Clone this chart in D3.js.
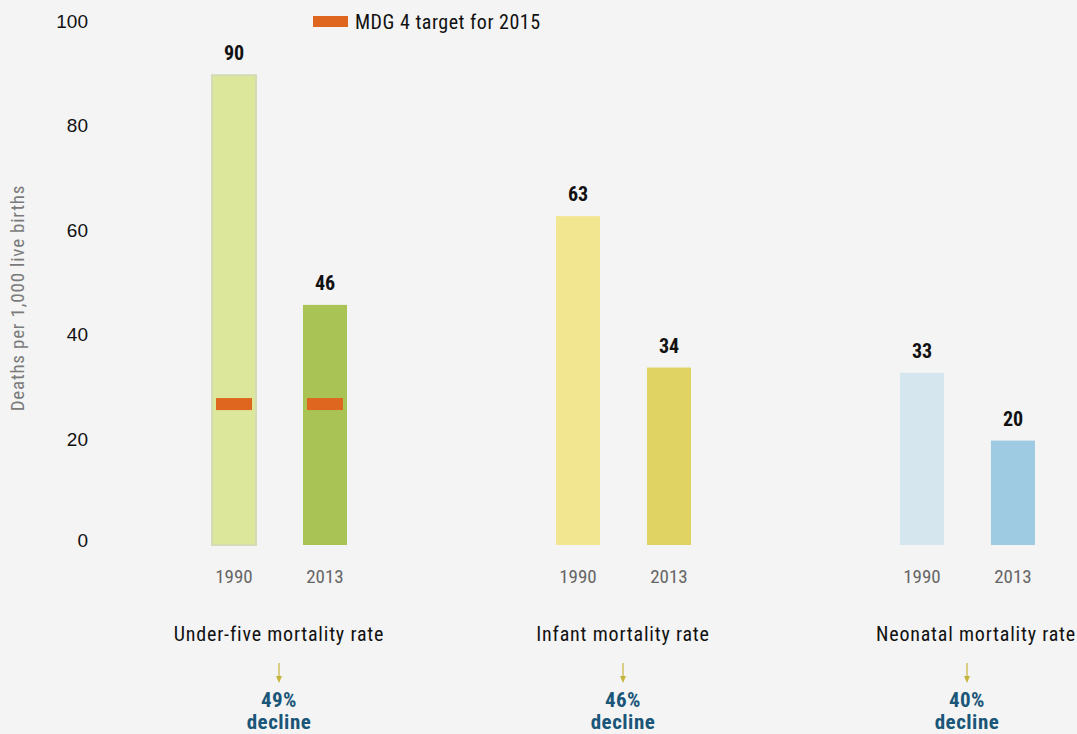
<!DOCTYPE html>
<html>
<head>
<meta charset="utf-8">
<script src="https://cdn.jsdelivr.net/npm/d3@7"></script>
<style>
  html, body { margin: 0; padding: 0; background: #f4f4f4; }
  svg { display: block; font-family: "Roboto Condensed", "Liberation Sans Narrow", "DejaVu Sans Condensed", sans-serif; }
</style>
</head>
<body>
<svg id="chart" width="1077" height="734"></svg>
<script>
// Mortality indicators, deaths per 1,000 live births
const categories = ["Under-five mortality rate", "Infant mortality rate", "Neonatal mortality rate"];
const years = ["1990", "2013"];
const values1990 = [90, 63, 33];
const values2013 = [46, 34, 20];
const declines = ["49%", "46%", "40%"];
const mdgTarget = [27, null, null];   // MDG 4 target for 2015 (under-five only)
const yTicks = [0, 20, 40, 60, 80, 100];
const legendLabel = "MDG 4 target for 2015";
const yTitle = "Deaths per 1,000 live births";

const colors = {
  "Under-five mortality rate": ["#dce79b", "#a9c355"],
  "Infant mortality rate": ["#f3e690", "#e1d363"],
  "Neonatal mortality rate": ["#d6e6ee", "#9ecbe2"]
};
const orange = "#df661e";

const svg = d3.select("#chart");

const y = d3.scaleLinear().domain([0, 100]).range([545, 23]);
const xGroup = d3.scaleBand().domain(categories).range([108, 1140]).paddingInner(0).paddingOuter(0);
const xYear = d3.scaleBand().domain(years).range([104, 239]).paddingInner(0.516).paddingOuter(0);

const rows = categories.map((c, i) => ({
  cat: c,
  bars: [
    { year: "1990", value: values1990[i] },
    { year: "2013", value: values2013[i] }
  ],
  decline: declines[i],
  target: mdgTarget[i]
}));

// y axis (labels only)
const yAxis = d3.axisLeft(y).tickValues(yTicks).tickSize(0).tickPadding(0);
const gy = svg.append("g").attr("transform", "translate(88,0)").call(yAxis);
gy.select(".domain").remove();
gy.selectAll("text")
  .attr("font-size", 19).attr("fill", "#111")
  .attr("dy", "0.32em")
  .style("font-family", "inherit");
gy.selectAll(".tick").attr("transform", d => `translate(0,${y(d) - (d === 0 ? 4 : 1)})`);

svg.append("text")
  .attr("transform", "translate(24,298) rotate(-90)")
  .attr("text-anchor", "middle")
  .attr("font-size", 19).attr("fill", "#7a7a7a")
  .attr("letter-spacing", 0.8)
  .text(yTitle);

const groups = svg.selectAll("g.grp").data(rows).join("g")
  .attr("class", "grp")
  .attr("transform", d => `translate(${xGroup(d.cat)},0)`);

groups.selectAll("rect.bar").data(d => d.bars.map((b, j) => ({ ...b, cat: d.cat, j }))).join("rect")
  .attr("class", "bar")
  .attr("x", d => xYear(d.year))
  .attr("y", d => y(d.value))
  .attr("width", xYear.bandwidth())
  .attr("height", d => y(0) - y(d.value))
  .attr("fill", d => colors[d.cat][d.j])
  .attr("stroke", d => (d.cat === categories[0] && d.j === 0) ? "#d3dcb5" : "none")
  .attr("stroke-width", 2);

// value labels
groups.selectAll("text.val").data(d => d.bars).join("text")
  .attr("class", "val")
  .attr("x", d => xYear(d.year) + xYear.bandwidth() / 2)
  .attr("y", d => y(d.value) - 15)
  .attr("text-anchor", "middle")
  .attr("font-size", 20).attr("font-weight", "bold").attr("fill", "#111")
  .text(d => d.value);

// year labels
groups.selectAll("text.yr").data(d => d.bars).join("text")
  .attr("class", "yr")
  .attr("x", d => xYear(d.year) + xYear.bandwidth() / 2)
  .attr("y", 583)
  .attr("text-anchor", "middle")
  .attr("font-size", 19).attr("fill", "#666")
  .text(d => d.year);

// target markers
groups.filter(d => d.target != null).selectAll("rect.tgt").data(d => d.bars.map(b => ({ ...b, t: d.target }))).join("rect")
  .attr("class", "tgt")
  .attr("x", d => xYear(d.year) + 4)
  .attr("y", d => y(d.t) - 6)
  .attr("width", xYear.bandwidth() - 8)
  .attr("height", 12)
  .attr("fill", orange);

const mid = xGroup.bandwidth() / 2 - 1;
const labelShift = [0, 0, 9];

// category labels
groups.append("text")
  .attr("x", (d, i) => mid + labelShift[i])
  .attr("y", 641)
  .attr("text-anchor", "middle")
  .attr("font-size", 20).attr("fill", "#111")
  .attr("letter-spacing", 0.8)
  .text(d => d.cat);

// decline arrows
groups.append("line")
  .attr("x1", mid).attr("x2", mid)
  .attr("y1", 663).attr("y2", 678)
  .attr("stroke", "#c6b43a").attr("stroke-width", 1.2);
groups.append("path")
  .attr("d", `M${mid - 3},676 L${mid + 3},676 L${mid},683 Z`)
  .attr("fill", "#c6b43a");

groups.append("text")
  .attr("x", mid).attr("y", 707)
  .attr("text-anchor", "middle")
  .attr("font-size", 21).attr("font-weight", "bold").attr("fill", "#1a5677")
  .attr("letter-spacing", 0.4)
  .text(d => d.decline);
groups.append("text")
  .attr("x", mid).attr("y", 729)
  .attr("text-anchor", "middle")
  .attr("font-size", 21).attr("font-weight", "bold").attr("fill", "#1a5677")
  .attr("letter-spacing", 0.5)
  .text("decline");

// legend
const lg = svg.append("g").attr("transform", "translate(313,16)");
lg.append("rect").attr("width", 35).attr("height", 11).attr("fill", orange);
lg.append("text").attr("x", 42).attr("y", 13).attr("font-size", 20).attr("fill", "#111")
  .attr("letter-spacing", 0.5).text(legendLabel);
</script>
</body>
</html>
